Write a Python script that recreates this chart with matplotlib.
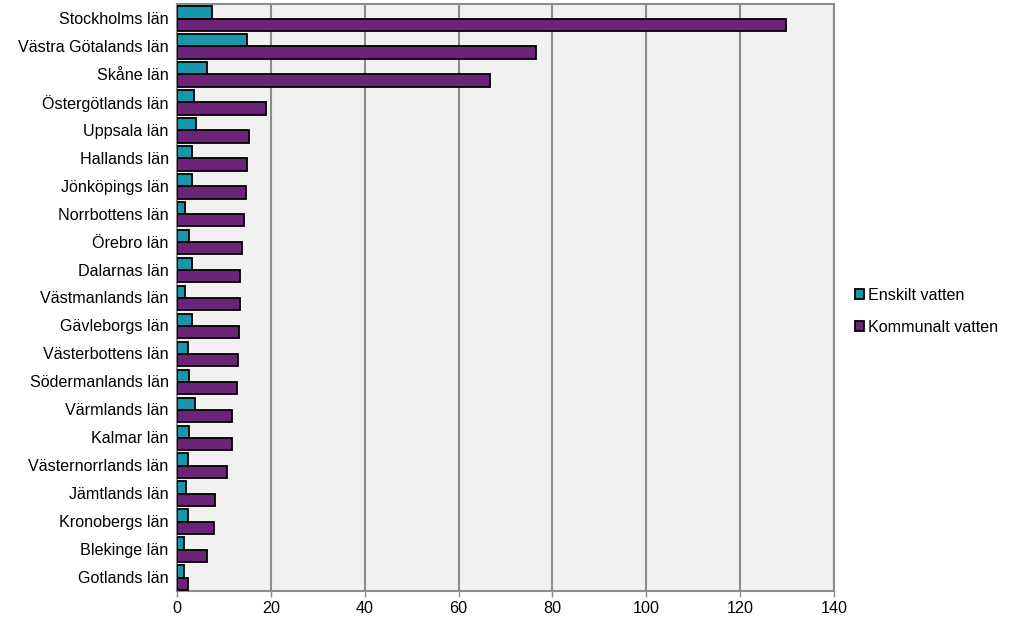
import matplotlib
matplotlib.use("Agg")
import matplotlib.pyplot as plt
import numpy as np

plt.rcParams['font.family'] = ['Liberation Sans', 'DejaVu Sans']

categories = ["Stockholms län", "Västra Götalands län", "Skåne län", "Östergötlands län",
              "Uppsala län", "Hallands län", "Jönköpings län", "Norrbottens län",
              "Örebro län", "Dalarnas län", "Västmanlands län", "Gävleborgs län",
              "Västerbottens län", "Södermanlands län", "Värmlands län", "Kalmar län",
              "Västernorrlands län", "Jämtlands län", "Kronobergs län", "Blekinge län",
              "Gotlands län"]
enskilt = [7.5, 15.0, 6.3, 3.7, 4.1, 3.1, 3.3, 1.7, 2.6, 3.1, 1.7, 3.3,
           2.4, 2.6, 3.9, 2.6, 2.4, 2.0, 2.4, 1.6, 1.4]
kommunalt = [129.8, 76.6, 66.6, 19.0, 15.4, 15.0, 14.6, 14.2, 13.9, 13.4, 13.4, 13.2,
             12.9, 12.7, 11.8, 11.8, 10.6, 8.0, 7.8, 6.5, 2.4]
xticks = [0, 20, 40, 60, 80, 100, 120, 140]

fs = 11.6
fig = plt.figure(figsize=(10.16, 6.23), dpi=100)
ax = fig.add_axes([0.1742, 0.0514, 0.8209 - 0.1742, 0.9936 - 0.0514])
ax.set_facecolor('#f1f1f1')

y = np.arange(len(categories))
h = 0.44
ax.barh(y - h / 2 + 0.02, enskilt, height=h, color='#1796ac', edgecolor='black', linewidth=1.3,
        label='Enskilt vatten', zorder=3)
ax.barh(y + h / 2 + 0.02, kommunalt, height=h, color='#6b2478', edgecolor='black', linewidth=1.3,
        label='Kommunalt vatten', zorder=3)

ax.set_ylim(len(categories) - 0.5, -0.5)
ax.set_xlim(0, 140)
ax.set_xticks(xticks)
ax.set_yticks(y)
ax.set_yticklabels(categories, fontsize=fs)
ax.tick_params(axis='x', labelsize=fs, length=4, color='#8c8c8c', width=1)
ax.tick_params(axis='y', length=0, pad=6)
ax.grid(axis='x', color='#8c8c8c', linewidth=1.5, zorder=0)
for s in ax.spines.values():
    s.set_color('#8c8c8c')
    s.set_linewidth(1.5)

fig.legend(loc='center left', bbox_to_anchor=(0.827, 0.5), frameon=False, fontsize=fs,
           handlelength=0.6, handleheight=0.6, handletextpad=0.2, labelspacing=1.05)

fig.savefig('out.png', dpi=100)
